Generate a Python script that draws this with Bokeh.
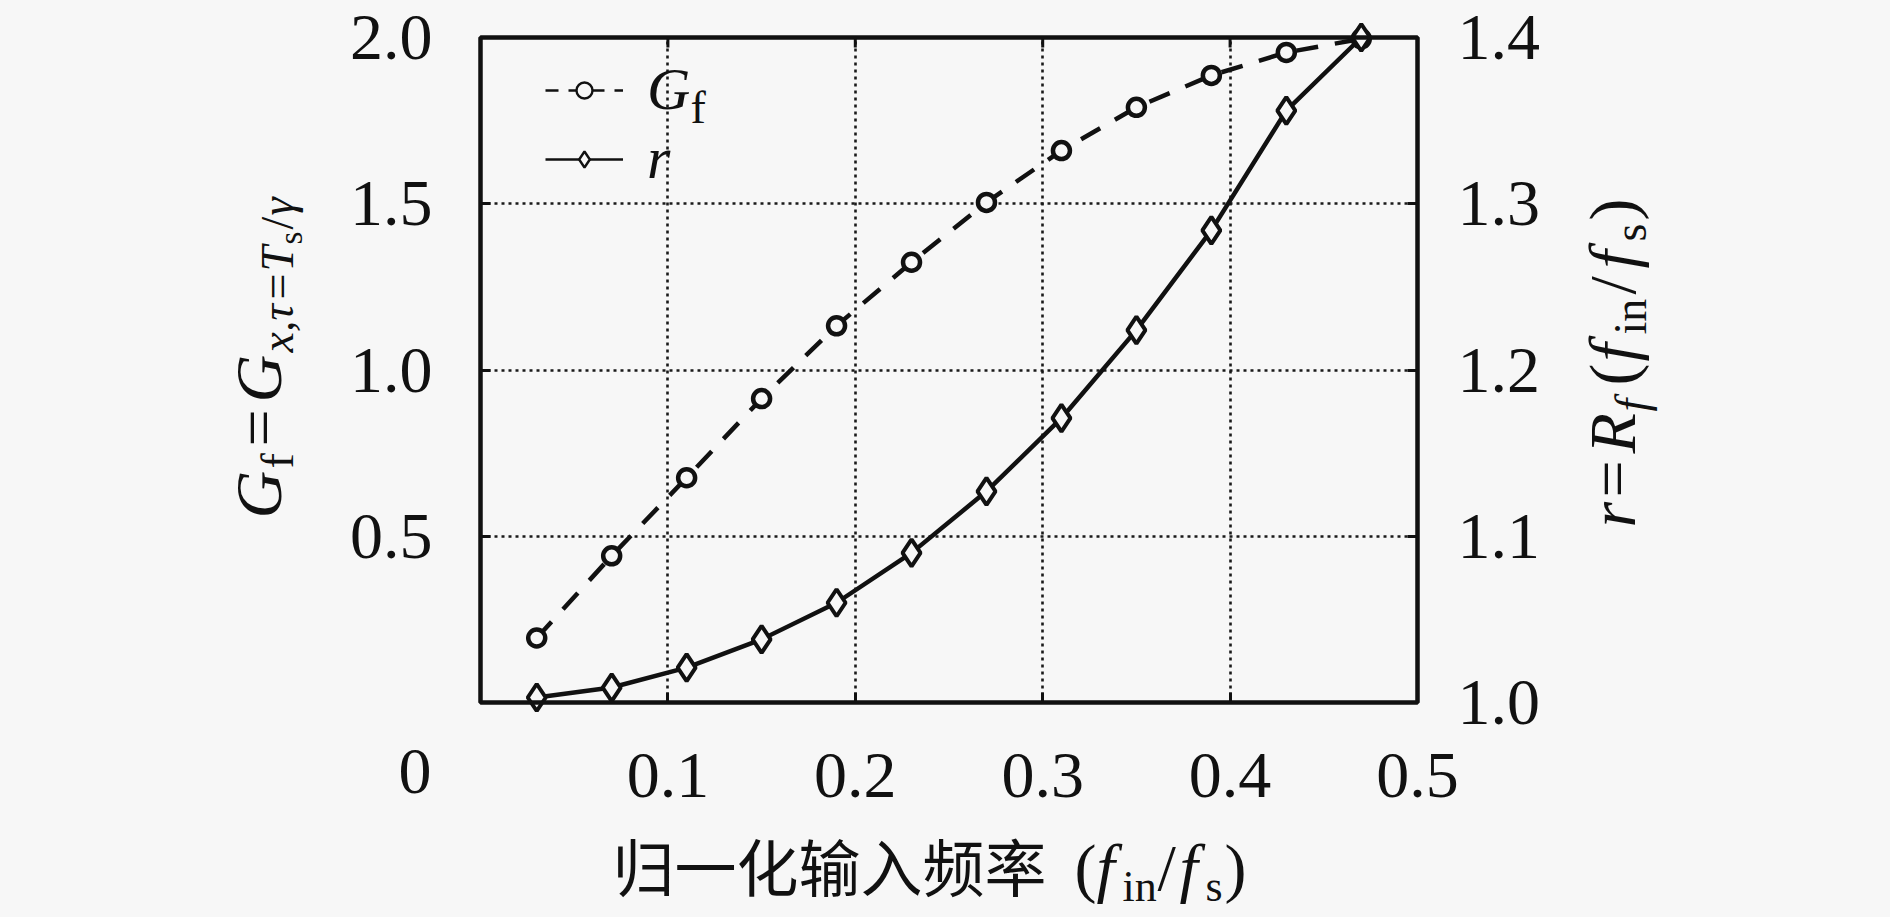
import math
from bokeh.plotting import figure
from bokeh.models import (Range1d, LinearAxis, FixedTicker, Label, Legend,
                          LegendItem, ColumnDataSource, BoxAnnotation,
                          PrintfTickFormatter)
from bokeh.embed import file_html
from bokeh.resources import INLINE

# ---------------- data ----------------
x_vals = [0.03, 0.07, 0.11, 0.15, 0.19, 0.23, 0.27, 0.31, 0.35, 0.39, 0.43, 0.47]
gf_vals = [0.194, 0.441, 0.676, 0.914, 1.133, 1.324, 1.504, 1.660, 1.790, 1.886, 1.955, 1.996]
r_vals = [1.003, 1.009, 1.021, 1.038, 1.060, 1.090, 1.127, 1.171, 1.224, 1.284, 1.356, 1.400]

x_ticks = [0.1, 0.2, 0.3, 0.4, 0.5]
x_grid = [0.1, 0.2, 0.3, 0.4]
left_ticks = [0.5, 1.0, 1.5, 2.0]
left_grid = [0.5, 1.0, 1.5]
right_ticks = [1.0, 1.1, 1.2, 1.3, 1.4]
origin_label = "0"

legend_labels = ["G", "r"]
x_title_cjk = "归一化输入频率"

# data limits of the plotting box
X0, X1 = 0.0, 0.5
Y0, Y1 = 0.0, 2.0
R0, R1 = 1.0, 1.4

# ---------------- layout (page px, body margin removed) ----------------
W, H = 1888, 914
FL, FR, FT, FB = 480, 1417, 37, 702   # box edges
FW, FH = FR - FL, FB - FT
BG = "#f7f7f7"
INK = "#111111"
SERIF = "Liberation Serif"
CJK = "Noto Sans CJK SC"
FS = 66
SUB = 46

sx = (X1 - X0) / FW
sy = (Y1 - Y0) / FH
sr = (R1 - R0) / FH

p = figure(width=W, height=H, output_backend="svg", toolbar_location=None,
           x_axis_location=None, y_axis_location=None,
           x_range=Range1d(X0 - FL * sx, X1 + (W - FR) * sx),
           y_range=Range1d(Y0 - (H - FB) * sy, Y1 + FT * sy),
           min_border=0, min_border_left=0, min_border_right=0,
           min_border_top=0, min_border_bottom=0,
           background_fill_color=BG, border_fill_color=BG,
           outline_line_color=None)
p.extra_y_ranges = {"r": Range1d(R0 - (H - FB) * sr, R1 + FT * sr),
                    "proxy": Range1d(1000, 1001)}

# ---------------- grid ----------------
grid_ok = True
try:
    p.xgrid[0].cross_bounds = (Y0, Y1)
    p.ygrid[0].cross_bounds = (X0, X1)
except Exception:
    grid_ok = False

if grid_ok:
    for g, t in ((p.xgrid[0], x_grid), (p.ygrid[0], left_grid)):
        g.ticker = FixedTicker(ticks=t)
        g.grid_line_color = "#1a1a1a"
        g.grid_line_width = 2.6
        g.grid_line_dash = "3 4"
else:
    for g in p.xgrid + p.ygrid:
        g.visible = False
    gx = ColumnDataSource(dict(x=x_grid, y0=[Y0] * len(x_grid), y1=[Y1] * len(x_grid)))
    p.segment(x0="x", y0="y0", x1="x", y1="y1", source=gx, line_color="#1a1a1a",
              line_width=2.6, line_dash="3 4")
    gy = ColumnDataSource(dict(y=left_grid, x0=[X0] * len(left_grid), x1=[X1] * len(left_grid)))
    p.segment(x0="x0", y0="y", x1="x1", y1="y", source=gy, line_color="#1a1a1a",
              line_width=2.6, line_dash="3 4")


# ---------------- axes ----------------
def style_axis(ax, ticks, standoff):
    ax.ticker = FixedTicker(ticks=ticks)
    ax.formatter = PrintfTickFormatter(format="%.1f")
    ax.major_tick_in = 10
    ax.major_tick_out = 0
    ax.major_tick_line_width = 3
    ax.major_tick_line_color = INK
    ax.minor_tick_line_color = None
    ax.axis_line_color = None
    ax.major_label_text_font = SERIF
    ax.major_label_text_font_size = f"{FS}px"
    ax.major_label_text_color = INK
    ax.major_label_standoff = standoff


bottom_axis = LinearAxis(fixed_location=Y0)
style_axis(bottom_axis, x_ticks, 51)
p.add_layout(bottom_axis, "below")

left_axis = LinearAxis(fixed_location=X0)
style_axis(left_axis, left_ticks, 48)
p.add_layout(left_axis, "left")

right_axis = LinearAxis(fixed_location=X1, y_range_name="r")
style_axis(right_axis, right_ticks, 40)
p.add_layout(right_axis, "right")

# inward ticks on the top edge
tick_len = 10 * sy
top_src = ColumnDataSource(dict(x=x_grid, y0=[Y1] * len(x_grid),
                                y1=[Y1 - tick_len] * len(x_grid)))
p.segment(x0="x", y0="y0", x1="x", y1="y1", source=top_src,
          line_color=INK, line_width=3)

# ---------------- series ----------------
src = ColumnDataSource(dict(x=x_vals, gf=gf_vals, r=r_vals))
p.line("x", "gf", source=src, line_color=INK, line_width=4.5, line_dash="22 17")
p.scatter("x", "gf", source=src, marker="circle", size=17, line_width=4.5,
          line_color=INK, fill_color=BG)
p.line("x", "r", source=src, y_range_name="r", line_color=INK, line_width=4.5)
p.scatter("x", "r", source=src, y_range_name="r", marker="diamond", size=27,
          line_width=4, line_color=INK, fill_color=BG)

# frame box
p.add_layout(BoxAnnotation(left=X0, right=X1, bottom=Y0, top=Y1,
                           fill_alpha=0, line_color=INK, line_alpha=1.0,
                           line_width=4.5))

# legend glyph proxies (mapped onto an off-screen range)
lg1 = p.line("x", "gf", source=src, y_range_name="proxy", line_color=INK,
             line_width=2.6, line_dash="13 10")
lg1m = p.scatter("x", "gf", source=src, y_range_name="proxy", marker="circle",
                 size=8, line_width=2.4, line_color=INK, fill_color=BG)
lg2 = p.line("x", "r", source=src, y_range_name="proxy", line_color=INK, line_width=2.6)
lg2m = p.scatter("x", "r", source=src, y_range_name="proxy", marker="diamond",
                 size=14, line_width=2.4, line_color=INK, fill_color=BG)

legend = Legend(items=[LegendItem(label=legend_labels[0], renderers=[lg1, lg1m]),
                       LegendItem(label=legend_labels[1], renderers=[lg2, lg2m])],
                location=(545, H - 193), margin=0, padding=0, spacing=0,
                glyph_width=78, glyph_height=40, label_standoff=24,
                label_height=60,
                label_text_font=SERIF, label_text_font_style="italic",
                label_text_font_size="60px", label_text_color=INK,
                border_line_color=None, background_fill_alpha=0)
p.add_layout(legend)


# ---------------- composite texts ----------------
def to_data(cx, cy):
    return (X0 + (cx - FL) * sx, Y0 + (FB - cy) * sy)


def mid_k(font):
    return 0.40 if font == CJK else 0.3375


def add_run(pieces, start, base, vertical=False):
    """base = baseline position (page px); texts are anchored at their middle."""
    cur = 0.0
    for txt, font, size, style, shift, adv in pieces:
        off = shift - mid_k(font) * size
        if vertical:
            cx, cy, ang = base + off, start - cur, math.pi / 2
        else:
            cx, cy, ang = start + cur, base + off, 0.0
        dx, dy = to_data(cx, cy)
        p.add_layout(Label(x=dx, y=dy, text=txt, text_font=font,
                           text_font_size=f"{size}px", text_font_style=style,
                           text_color=INK, angle=ang, text_align="left",
                           text_baseline="middle"))
        cur += adv


# x-axis title
add_run([
    (x_title_cjk, CJK, 62, "normal", 0, 7 * 62 + 28),
    ("(", SERIF, FS, "normal", 0, 22),
    ("f", SERIF, FS, "italic", 0, 26),
    ("in", SERIF, 44, "normal", 12, 35),
    ("/", SERIF, FS, "normal", 0, 22),
    ("f", SERIF, FS, "italic", 0, 26),
    ("s", SERIF, 44, "normal", 12, 19),
    (")", SERIF, FS, "normal", 0, 20),
], start=612, base=889)

# left title (rotated)
add_run([
    ("G", SERIF, FS, "italic", 0, 50),
    ("f", SERIF, SUB, "normal", 13, 22),
    ("=", SERIF, FS, "normal", 0, 44),
    ("G", SERIF, FS, "italic", 0, 50),
    ("x,τ", SERIF, SUB, "italic", 13, 53),
    ("=", SERIF, SUB, "normal", 13, 28),
    ("T", SERIF, SUB, "italic", 13, 27),
    ("s", SERIF, 33, "normal", 22, 15),
    ("/", SERIF, SUB, "normal", 13, 14),
    ("γ", SERIF, SUB, "italic", 13, 20),
], start=518, base=280, vertical=True)

# right title (rotated)
add_run([
    ("r", SERIF, FS, "italic", 0, 30),
    ("=", SERIF, FS, "normal", 0, 44),
    ("R", SERIF, FS, "italic", 0, 42),
    ("f", SERIF, SUB, "italic", 13, 26),
    ("(", SERIF, FS, "normal", 0, 24),
    ("f", SERIF, FS, "italic", 0, 27),
    ("in", SERIF, SUB, "normal", 12, 40),
    ("/", SERIF, FS, "normal", 0, 26),
    ("f", SERIF, FS, "italic", 0, 27),
    ("s", SERIF, SUB, "normal", 12, 21),
    (")", SERIF, FS, "normal", 0, 22),
], start=527, base=1634, vertical=True)

# legend subscript and origin label
add_run([("f", SERIF, SUB, "normal", 0, 15)], start=690, base=123)
add_run([(origin_label, SERIF, FS, "normal", 0, 33)], start=398, base=793)

html = file_html(p, INLINE)
html = html.replace("</head>",
                    "<style>html,body{margin:0;padding:0;background:%s;}</style></head>" % BG, 1)
open("out.html", "w").write(html)
